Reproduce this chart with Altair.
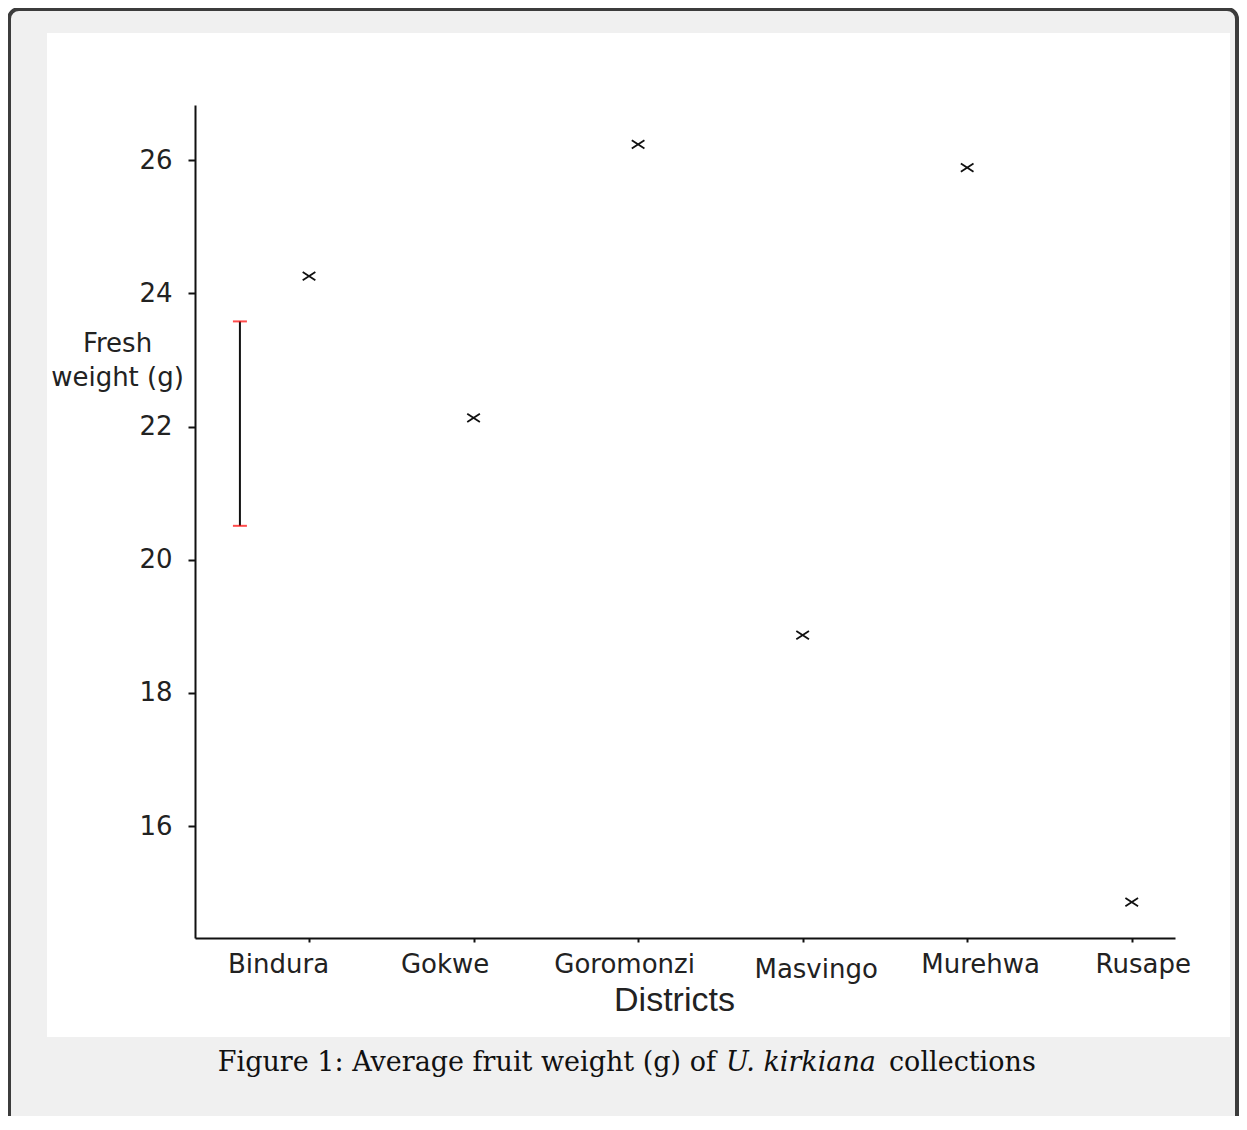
import altair as alt
import pandas as pd

# ---- data ----
districts = ["Bindura", "Gokwe", "Goromonzi", "Masvingo", "Murehwa", "Rusape"]
positions = [0, 1, 2, 3, 4, 5]
fresh_weight = [24.26, 22.13, 26.24, 18.87, 25.89, 14.86]
lsd_x = [-0.42]
lsd_low = [20.51]
lsd_high = [23.58]
y_ticks = [16, 18, 20, 22, 24, 26]
x_domain = [-0.693, 5.263]
y_domain = [14.32, 26.83]

df = pd.DataFrame({"district": districts, "pos": positions, "weight": fresh_weight})
lsd = pd.DataFrame({"x": lsd_x, "low": lsd_low, "high": lsd_high})
one = pd.DataFrame({"a": [0]})

label_expr = "[" + ",".join(f"'{d}'" for d in districts) + "][datum.value]"

# label placement quirks of the original figure (style, in px)
label_shift = {0: -31, 1: -29, 2: -14, 3: 13, 4: 13, 5: 11}
label_offset = {
    "condition": [{"test": f"datum.value == {k}", "value": v} for k, v in label_shift.items()],
    "value": 0,
}
label_pad = {"condition": [{"test": "datum.value == 3", "value": 14}], "value": 9}

x_scale = alt.Scale(domain=x_domain, nice=False, zero=False)
y_scale = alt.Scale(domain=y_domain, nice=False, zero=False)

x_axis = alt.Axis(
    values=positions, labelExpr=label_expr, title="Districts", zindex=2,
    grid=False, domainColor="#111", domainWidth=2, tickColor="#111",
    tickWidth=2, tickSize=4, labelPadding=label_pad, labelOffset=label_offset,
    labelFont="DejaVu Sans", labelFontSize=26, labelColor="#222", labelAngle=0,
    titleFont="Liberation Sans", titleFontSize=34, titleFontWeight="normal",
    titleColor="#222", titleX=479, titleY=62, titleBaseline="middle",
    titleAlign="center",
)
y_axis = alt.Axis(
    values=y_ticks, title=["Fresh", "weight (g)"], grid=False, zindex=2,
    domainColor="#111", domainWidth=2, tickColor="#111", tickWidth=2,
    tickSize=7, labelPadding=16, labelFont="DejaVu Sans", labelFontSize=26,
    labelColor="#222", labelBaseline="middle",
    titleAngle=0, titleX=-78, titleY=225, titleAlign="center",
    titleBaseline="top", titleLineHeight=34, titleFont="DejaVu Sans",
    titleFontSize=26, titleFontWeight="normal", titleColor="#222",
)

# ---- decorations: frame, white panel, caption ----
frame = alt.Chart(one).mark_rect(
    fill="#f0f0f0", stroke="#3c3c3c", strokeWidth=4, cornerRadius=10
).encode(x=alt.value(-186), x2=alt.value(1042), y=alt.value(-96), y2=alt.value(1100))

panel = alt.Chart(one).mark_rect(fill="white").encode(
    x=alt.value(-148), x2=alt.value(1035), y=alt.value(-72), y2=alt.value(932)
)

cap_font = dict(font="DejaVu Serif", fontSize=27, baseline="middle", color="#111")
cap1 = alt.Chart(one).mark_text(align="right", **cap_font).encode(
    x=alt.value(521), y=alt.value(958),
    text=alt.value("Figure 1:  Average fruit weight (g) of"))
cap2 = alt.Chart(one).mark_text(align="left", fontStyle="italic", **cap_font).encode(
    x=alt.value(531), y=alt.value(958), text=alt.value("U. kirkiana"))
cap3 = alt.Chart(one).mark_text(align="left", **cap_font).encode(
    x=alt.value(694), y=alt.value(958), text=alt.value("collections"))

# ---- LSD bar ----
lsd_line = alt.Chart(lsd).mark_rule(color="#111", strokeWidth=2).encode(
    x=alt.X("x:Q", scale=x_scale, axis=x_axis),
    y=alt.Y("low:Q", scale=y_scale, axis=y_axis),
    y2="high:Q",
)
lsd_cap_hi = alt.Chart(lsd).mark_tick(orient="horizontal", color="#ff0000", size=14, thickness=2).encode(
    x=alt.X("x:Q", scale=x_scale, axis=x_axis),
    y=alt.Y("high:Q", scale=y_scale, axis=y_axis),
)
lsd_cap_lo = alt.Chart(lsd).mark_tick(orient="horizontal", color="#ff0000", size=14, thickness=2).encode(
    x=alt.X("x:Q", scale=x_scale, axis=x_axis),
    y=alt.Y("low:Q", scale=y_scale, axis=y_axis),
)

# ---- points ----
points = alt.Chart(df).mark_point(
    shape="M-1,-0.65L1,0.65M-1,0.65L1,-0.65", size=160, filled=False,
    stroke="#111", strokeWidth=1.8, opacity=1,
).encode(
    x=alt.X("pos:Q", scale=x_scale, axis=x_axis),
    y=alt.Y("weight:Q", scale=y_scale, axis=y_axis),
    tooltip=["district", "weight"],
)

chart = alt.layer(
    frame, panel, cap1, cap2, cap3, lsd_line, lsd_cap_hi, lsd_cap_lo, points
).properties(
    width=980, height=833,
    autosize=alt.AutoSizeParams(type="none"),
    padding={"left": 187, "top": 97, "right": 64, "bottom": 178},
    background="white",
).configure_view(stroke=None)

chart.save("out.html", embed_options={"renderer": "svg", "actions": False})
